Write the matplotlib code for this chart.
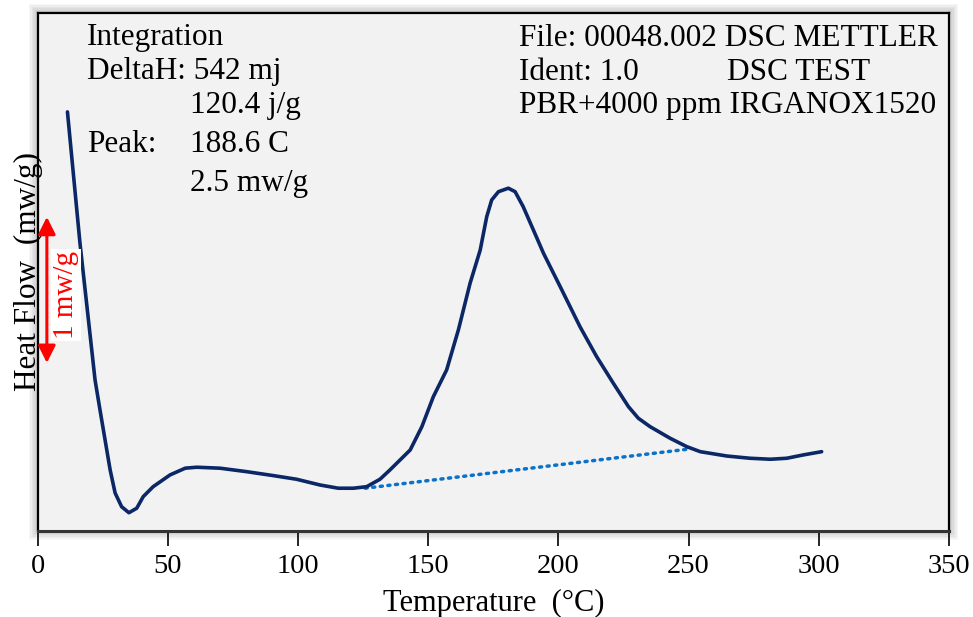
import matplotlib
matplotlib.use("Agg")
import matplotlib.pyplot as plt
from matplotlib.patches import Rectangle

# ---- data (temperature in °C, heat flow in mw/g, arbitrary offset)
temperature = [11.5, 16.3, 22.1, 24.0, 25.3, 27.9, 29.8, 32.3, 35.1, 38.1, 40.6, 44.4,
               50.9, 56.7, 61.1, 70.1, 80.4, 90.6, 99.5, 108.5, 115.5, 121.3, 126.4,
               131.5, 135.3, 143.1, 147.6, 152.0, 157.1, 161.6, 166.1, 170.0, 172.5,
               174.4, 177.0, 180.8, 183.4, 186.5, 190.4, 194.3, 200.7, 208.3, 214.7,
               221.1, 226.9, 230.7, 235.2, 242.9, 249.3, 254.5, 264.7, 273.6, 281.4,
               287.7, 294.1, 301.1]
heat_flow = [2.979, 2.043, 1.064, 0.850, 0.707, 0.421, 0.257, 0.159, 0.116, 0.148, 0.231,
             0.302, 0.386, 0.434, 0.441, 0.434, 0.409, 0.381, 0.355, 0.314, 0.291, 0.291,
             0.302, 0.355, 0.421, 0.564, 0.731, 0.945, 1.136, 1.421, 1.755, 1.993, 2.231,
             2.350, 2.409, 2.434, 2.409, 2.302, 2.136, 1.969, 1.731, 1.445, 1.231, 1.041,
             0.874, 0.791, 0.731, 0.648, 0.588, 0.552, 0.521, 0.505, 0.498, 0.505, 0.529,
             0.552]
baseline_temperature = [125.8, 249.3]
baseline_heat_flow = [0.291, 0.569]
xticks = [0, 50, 100, 150, 200, 250, 300, 350]
scale_bar = [1.186, 2.229]   # 1 mw/g scale arrow (data units of drawing)

plt.rcParams['font.family'] = ['Liberation Serif', 'DejaVu Serif']

W, H = 973, 617
fig = plt.figure(figsize=(W / 100, H / 100), dpi=100)
fig.patch.set_facecolor('white')
L, R, T, B = 37.5, 949.0, 12.5, 530.5
ax_rect = [L / W, 1 - B / H, (R - L) / W, (B - T) / H]

# soft shadow around the plot box
for i in range(6):
    d = (i + 1) * 1.5
    fig.patches.append(Rectangle(((L - d) / W, 1 - (B + d) / H),
                                 (R - L + 2 * d) / W, (B - T + 2 * d) / H,
                                 transform=fig.transFigure, facecolor='black',
                                 edgecolor='none', alpha=0.035, zorder=-5))

ax = fig.add_axes(ax_rect)
ax.set_facecolor('#f2f2f2')

ax.plot(temperature, heat_flow, color='#0b2766', lw=2.6, solid_capstyle='round',
        solid_joinstyle='round', zorder=3)
ax.plot(baseline_temperature, baseline_heat_flow, color='#0a72c8', lw=2.5,
        linestyle=(0, (0.6, 1.6)), dash_capstyle='round', zorder=2)

ax.set_xlim(0, 350)
ax.set_ylim(-0.011, 3.689)
ax.set_xticks(xticks)
ax.set_xticklabels([str(t) for t in xticks])
ax.set_yticks([])
ax.tick_params(axis='x', direction='out', length=11, width=1.2, pad=6,
               labelsize=20.5, colors='black')
for side in ['top', 'left', 'right']:
    ax.spines[side].set_linewidth(1.6)
ax.spines['bottom'].set_linewidth(2.2)
ax.spines['bottom'].set_color('#333333')

ax.set_xlabel('Temperature  (°C)', fontsize=22, labelpad=7)
ax.set_ylabel('Heat Flow  (mw/g)', fontsize=22.5, labelpad=-4)

# scale arrow
ax.annotate('', xy=(3.6, scale_bar[1]), xytext=(3.6, scale_bar[0]),
            arrowprops=dict(arrowstyle='<|-|>', color='red', lw=2.2,
                            mutation_scale=26, shrinkA=0, shrinkB=0), zorder=4)
ax.text(10.9, 1.67, '1 mw/g', color='red', rotation=90, fontsize=21,
        ha='center', va='center', zorder=5,
        bbox=dict(facecolor='white', edgecolor='none', pad=1.5))

# annotation blocks
fs = 22.5
tkw = dict(transform=fig.transFigure, fontsize=fs, va='center', ha='left')
def fy(py):
    return 1 - py / H
def fx(px):
    return px / W
fig.text(fx(87), fy(38), 'Integration', **tkw)
fig.text(fx(87), fy(72), 'DeltaH: 542 mj', **tkw)
fig.text(fx(190), fy(105), '120.4 j/g', **tkw)
fig.text(fx(87), fy(144), 'Peak:', **tkw)
fig.text(fx(190), fy(144), '188.6 C', **tkw)
fig.text(fx(190), fy(183), '2.5 mw/g', **tkw)

fig.text(fx(519), fy(38), 'File: 00048.002 DSC METTLER', **tkw)
fig.text(fx(519), fy(72), 'Ident: 1.0', **tkw)
fig.text(fx(727), fy(72), 'DSC TEST', **tkw)
fig.text(fx(519), fy(105), 'PBR+4000 ppm IRGANOX1520', **tkw)

fig.savefig('out.png', dpi=100)
